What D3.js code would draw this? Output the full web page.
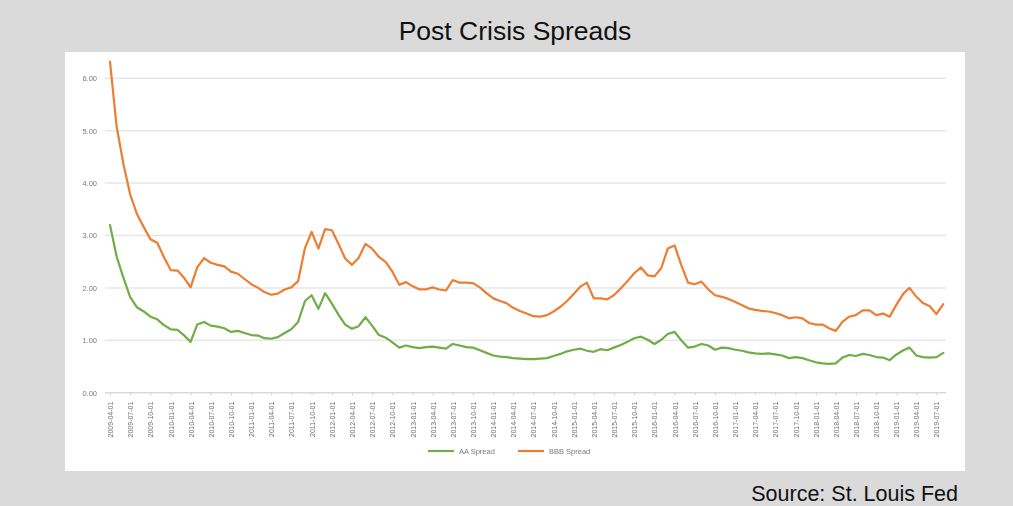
<!DOCTYPE html>
<html>
<head>
<meta charset="utf-8">
<script src="https://cdn.jsdelivr.net/npm/d3@7"></script>
<style>
  html, body { margin: 0; padding: 0; background: #dadada; }
  svg { display: block; }
</style>
</head>
<body>
<svg id="chart" width="1013" height="506"></svg>
<script>
// Monthly option-adjusted spreads (%), first observation April 2009
const startMonth = "2009-04-01";

const aaSpread = [
  3.20, 2.60, 2.19, 1.83, 1.63, 1.55, 1.45, 1.40, 1.29, 1.21, 1.20, 1.10,
  0.97, 1.30, 1.35, 1.28, 1.26, 1.23, 1.16, 1.18, 1.14, 1.10, 1.09, 1.04,
  1.03, 1.06, 1.14, 1.21, 1.35, 1.75, 1.86, 1.60, 1.90, 1.70, 1.48, 1.30,
  1.22, 1.27, 1.44, 1.28, 1.10, 1.05, 0.96, 0.86, 0.90, 0.87, 0.85, 0.87,
  0.88, 0.86, 0.84, 0.93, 0.90, 0.87, 0.86, 0.81, 0.76, 0.71, 0.69, 0.68,
  0.66, 0.65, 0.64, 0.64, 0.65, 0.66, 0.70, 0.74, 0.79, 0.82, 0.84, 0.80,
  0.78, 0.83, 0.81, 0.86, 0.91, 0.97, 1.04, 1.07, 1.01, 0.93, 1.01, 1.12,
  1.16, 1.00, 0.86, 0.88, 0.93, 0.90, 0.82, 0.86, 0.85, 0.82, 0.80, 0.77,
  0.75, 0.74, 0.75, 0.73, 0.71, 0.66, 0.68, 0.66, 0.62, 0.58, 0.56, 0.55,
  0.56, 0.67, 0.72, 0.70, 0.74, 0.72, 0.68, 0.67, 0.62, 0.73, 0.81, 0.86,
  0.71, 0.68, 0.67, 0.68, 0.76
];

const bbbSpread = [
  6.32, 5.08, 4.36, 3.79, 3.41, 3.16, 2.93, 2.86, 2.59, 2.34, 2.33, 2.20,
  2.01, 2.39, 2.57, 2.48, 2.44, 2.41, 2.31, 2.27, 2.17, 2.07, 2.00, 1.92,
  1.87, 1.89, 1.97, 2.01, 2.13, 2.76, 3.07, 2.75, 3.12, 3.10, 2.83, 2.56,
  2.44, 2.57, 2.84, 2.75, 2.59, 2.49, 2.31, 2.06, 2.11, 2.03, 1.97, 1.97,
  2.01, 1.97, 1.95, 2.15, 2.10, 2.10, 2.09, 2.01, 1.90, 1.80, 1.75, 1.71,
  1.62, 1.56, 1.51, 1.46, 1.45, 1.48, 1.55, 1.64, 1.75, 1.89, 2.03, 2.10,
  1.80, 1.80, 1.78, 1.86, 1.99, 2.13, 2.28, 2.39, 2.24, 2.22, 2.38, 2.75,
  2.81, 2.44, 2.10, 2.07, 2.12, 1.97, 1.86, 1.83, 1.79, 1.73, 1.67, 1.61,
  1.58, 1.56, 1.55, 1.52, 1.48, 1.42, 1.44, 1.42, 1.33, 1.30, 1.30, 1.23,
  1.18, 1.35, 1.45, 1.48, 1.57, 1.57, 1.48, 1.51, 1.45, 1.68, 1.89, 2.00,
  1.83, 1.71, 1.65, 1.50, 1.69
];

const yTicks = [0, 1, 2, 3, 4, 5, 6];

const xTickLabels = [
  "2009-04-01", "2009-07-01", "2009-10-01", "2010-01-01", "2010-04-01", "2010-07-01",
  "2010-10-01", "2011-01-01", "2011-04-01", "2011-07-01", "2011-10-01", "2012-01-01",
  "2012-04-01", "2012-07-01", "2012-10-01", "2013-01-01", "2013-04-01", "2013-07-01",
  "2013-10-01", "2014-01-01", "2014-04-01", "2014-07-01", "2014-10-01", "2015-01-01",
  "2015-04-01", "2015-07-01", "2015-10-01", "2016-01-01", "2016-04-01", "2016-07-01",
  "2016-10-01", "2017-01-01", "2017-04-01", "2017-07-01", "2017-10-01", "2018-01-01",
  "2018-04-01", "2018-07-01", "2018-10-01", "2019-01-01", "2019-04-01", "2019-07-01"
];

const seriesNames = ["AA Spread", "BBB Spread"];
const seriesColors = ["#70ad47", "#ed7d31"];

const parse = d3.timeParse("%Y-%m-%d");
const start = parse(startMonth);
const dates = aaSpread.map((_, i) => d3.timeMonth.offset(start, i));

const svg = d3.select("#chart");

// Soft look for the embedded chart panel
const defs = svg.append("defs");
defs.append("filter").attr("id", "soft")
  .attr("x", "-5%").attr("y", "-5%").attr("width", "110%").attr("height", "110%")
  .append("feGaussianBlur").attr("stdDeviation", 0.55);

// Title
svg.append("text")
  .attr("x", 515).attr("y", 40)
  .attr("text-anchor", "middle")
  .attr("font-family", "Liberation Sans, Arial, Helvetica, sans-serif")
  .attr("font-size", 26.5)
  .attr("fill", "#111")
  .text("Post Crisis Spreads");

// White chart panel
svg.append("rect")
  .attr("x", 65).attr("y", 52)
  .attr("width", 900).attr("height", 419)
  .attr("fill", "#ffffff");

const g = svg.append("g").attr("filter", "url(#soft)");

const x = d3.scaleTime()
  .domain([dates[0], dates[dates.length - 1]])
  .range([110, 943.3]);

const y = d3.scaleLinear()
  .domain([0, 6])
  .range([392.7, 78.3]);

// Horizontal gridlines
g.append("g")
  .selectAll("line")
  .data(yTicks)
  .join("line")
  .attr("x1", 105).attr("x2", 946)
  .attr("y1", d => y(d)).attr("y2", d => y(d))
  .attr("stroke", d => d === 0 ? "#d9d9d9" : "#e7e7e7")
  .attr("stroke-width", 1.5);

// Y axis labels
const yAxis = d3.axisLeft(y)
  .tickValues(yTicks)
  .tickFormat(d3.format(".2f"))
  .tickSize(0)
  .tickPadding(0);

g.append("g")
  .attr("transform", "translate(97,0)")
  .call(yAxis)
  .call(s => s.select(".domain").remove())
  .call(s => s.selectAll("text")
    .attr("font-family", "Liberation Sans, Arial, sans-serif")
    .attr("font-size", 7.5)
    .attr("fill", "#7a7a7a"));

// X axis with rotated quarterly date labels
const xTickDates = xTickLabels.map(parse);
const xAxis = d3.axisBottom(x)
  .tickValues(xTickDates)
  .tickFormat((d, i) => xTickLabels[i])
  .tickSize(3)
  .tickPadding(0);

g.append("g")
  .attr("transform", `translate(0,${y(0)})`)
  .call(xAxis)
  .call(s => s.select(".domain").remove())
  .call(s => s.selectAll(".tick line").attr("stroke", "#d9d9d9"))
  .call(s => s.selectAll("text")
    .attr("font-family", "Liberation Sans, Arial, sans-serif")
    .attr("font-size", 7)
    .attr("fill", "#6e6e6e")
    .attr("text-anchor", "end")
    .attr("dy", "0.35em")
    .attr("transform", "translate(0,9) rotate(-90)")
    .attr("x", 0).attr("y", 0));

// Series lines
const line = d3.line()
  .x((d, i) => x(dates[i]))
  .y(d => y(d));

[aaSpread, bbbSpread].forEach((vals, k) => {
  g.append("path")
    .datum(vals)
    .attr("fill", "none")
    .attr("stroke", seriesColors[k])
    .attr("stroke-width", 2.2)
    .attr("stroke-linejoin", "round")
    .attr("stroke-linecap", "round")
    .attr("d", line);
});

// Legend
const legendX = [428, 518];
const legend = g.append("g");
seriesNames.forEach((name, k) => {
  legend.append("line")
    .attr("x1", legendX[k]).attr("x2", legendX[k] + 26)
    .attr("y1", 451).attr("y2", 451)
    .attr("stroke", seriesColors[k])
    .attr("stroke-width", 2.2);
  legend.append("text")
    .attr("x", legendX[k] + 31).attr("y", 453.5)
    .attr("font-family", "Liberation Sans, Arial, sans-serif")
    .attr("font-size", 7.5)
    .attr("fill", "#7a7a7a")
    .text(name);
});

// Source note
svg.append("text")
  .attr("x", 958).attr("y", 501)
  .attr("text-anchor", "end")
  .attr("font-family", "Liberation Sans, Arial, Helvetica, sans-serif")
  .attr("font-size", 21.5)
  .attr("fill", "#111")
  .text("Source: St. Louis Fed");
</script>
</body>
</html>
